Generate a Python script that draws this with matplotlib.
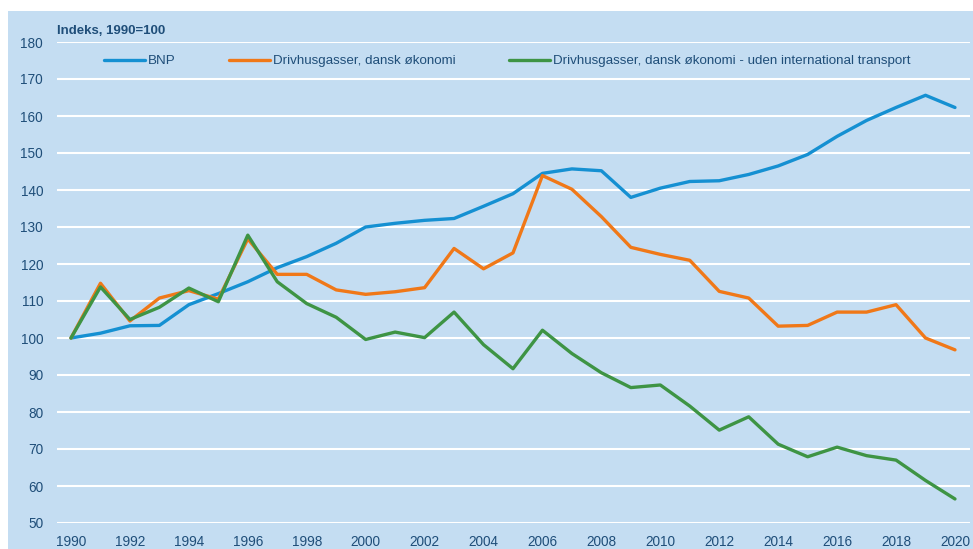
import matplotlib
matplotlib.use("Agg")
import matplotlib.pyplot as plt
from matplotlib.patches import Rectangle

plt.rcParams['font.family'] = ['Liberation Sans', 'DejaVu Sans']

years = list(range(1990, 2021))
bnp = [100, 101.3, 103.3, 103.4, 109, 112, 115.2, 119, 122, 125.6, 130, 131,
       131.8, 132.3, 135.6, 139, 144.5, 145.7, 145.2, 138, 140.5, 142.3, 142.5,
       144.2, 146.5, 149.6, 154.5, 158.8, 162.3, 165.6, 162.3]
ghg = [100, 114.8, 104.6, 110.8, 112.8, 110.5, 126.8, 117.2, 117.2, 113, 111.8,
       112.5, 113.6, 124.2, 118.7, 123, 143.9, 140.2, 132.8, 124.5, 122.6, 121,
       112.6, 110.8, 103.2, 103.4, 107, 107, 109, 100, 96.8]
ghg_ex = [100, 113.8, 105, 108.3, 113.5, 109.8, 127.8, 115.2, 109.3, 105.6, 99.6,
          101.6, 100.1, 107, 98.2, 91.7, 102.1, 95.8, 90.6, 86.6, 87.3, 81.6,
          75.1, 78.7, 71.3, 67.9, 70.5, 68.2, 67, 61.5, 56.5]
labels = ["BNP", "Drivhusgasser, dansk økonomi",
          "Drivhusgasser, dansk økonomi - uden international transport"]
yticks = list(range(50, 181, 10))
xticks = list(range(1990, 2021, 2))

bg = '#C4DDF2'
txt = '#1F4E79'
colors = ['#1590D2', '#F07818', '#3E9444']
fs = 9.8

W, H = 973, 549
fig = plt.figure(figsize=(W / 100, H / 100), dpi=100)
fig.patch.set_facecolor('white')
fig.patches.append(Rectangle((8 / W, 0), 1 - 8 / W, 1 - 11 / H,
                             transform=fig.transFigure, facecolor=bg,
                             edgecolor='none', zorder=-10))

left, right = 57 / W, 970 / W
top, bottom = 1 - 42 / H, 1 - 523 / H
ax = fig.add_axes([left, bottom, right - left, top - bottom])
ax.set_facecolor('none')
ax.set_xlim(1989.525, 2020.51)
ax.set_ylim(50, 180)
ax.set_yticks(yticks)
ax.set_xticks(xticks)
ax.set_yticklabels([str(t) for t in yticks])
ax.set_xticklabels([str(t) for t in xticks])
ax.grid(axis='y', color='white', linewidth=1.5, zorder=1)
ax.set_axisbelow(True)
for s in ax.spines.values():
    s.set_visible(False)
ax.tick_params(axis='both', length=0, colors=txt, labelsize=fs)
ax.tick_params(axis='y', pad=10)
ax.tick_params(axis='x', pad=8.5)

for data, c, lab in zip([bnp, ghg, ghg_ex], colors, labels):
    ax.plot(years, data, color=c, linewidth=2.4, label=lab, zorder=3,
            solid_capstyle='round', solid_joinstyle='round')

fig.text(57 / W, 1 - 31 / H, "Indeks, 1990=100", color=txt, fontsize=9.5,
         fontweight='bold', va='center', ha='left')

leg = ax.legend(loc='center left', bbox_to_anchor=((104 - 57) / (970 - 57), (523 - 61) / (523 - 42)),
                ncol=3, frameon=False, fontsize=9.6, handlelength=3.07,
                handletextpad=0.23, columnspacing=4.0, borderaxespad=0, borderpad=0)
for t in leg.get_texts():
    t.set_color(txt)

fig.savefig("out.png", dpi=100, facecolor=fig.get_facecolor())
